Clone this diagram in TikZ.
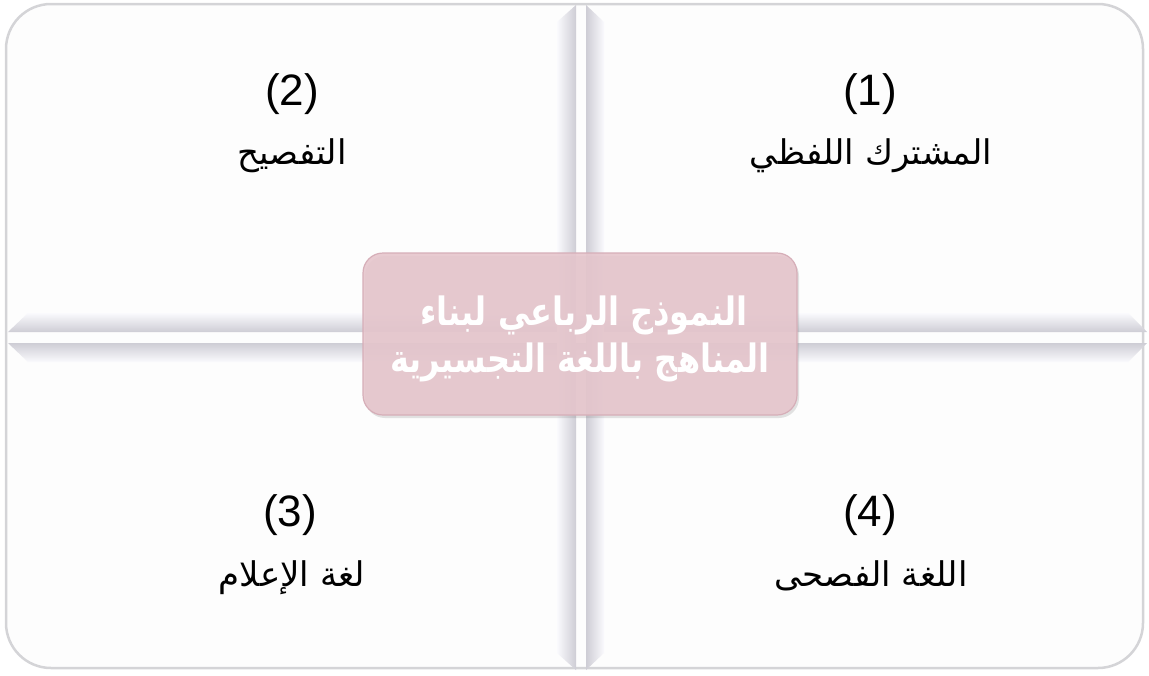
\documentclass[tikz,border=0pt]{standalone}
\usepackage{fontspec}
\setmainfont{Liberation Sans}
\newfontfamily\arabicfont[Script=Arabic]{DejaVu Sans}
\TeXXeTstate=1
\usetikzlibrary{shadows}
\definecolor{barlight}{RGB}{250,250,253}
\definecolor{bardark}{RGB}{206,205,213}
\definecolor{boxpink}{RGB}{230,198,205}
\definecolor{boxedge}{RGB}{214,174,184}
\definecolor{framegray}{RGB}{212,212,215}
\definecolor{framefill}{RGB}{253,253,253}
\begin{document}
\begin{tikzpicture}[x=1pt,y=-1pt,
  num/.style={font=\fontsize{44}{44}\selectfont, anchor=base, inner sep=0pt},
  lab/.style={font=\arabicfont\fontsize{34}{34}\selectfont, anchor=base, inner sep=0pt},
  coretxt/.style={font=\arabicfont\bfseries\fontsize{32}{32}\selectfont, text=white, anchor=base, inner sep=0pt},
  barA/.style={draw=none, left color=barlight, right color=bardark},
  barB/.style={draw=none, left color=bardark, right color=barlight},
  barC/.style={draw=none, top color=barlight, bottom color=bardark},
  barD/.style={draw=none, top color=bardark, bottom color=barlight},
  corebox/.style={rounded corners=20pt, fill=boxpink, fill opacity=0.9, draw=boxedge, line width=1.2pt,
    drop shadow={opacity=0.22, shadow xshift=2pt, shadow yshift=-3pt}}]
\useasboundingbox (0,0) rectangle (1149,675);
% frame
\draw[rounded corners=45pt, draw=framegray, line width=2.5pt, fill=framefill] (6,4) rectangle (1143,668);
% horizontal double arrow
\shade[barC] (28,313) -- (1128,313) -- (1147,332) -- (8,332) -- cycle;
\shade[barD] (8,343) -- (1147,343) -- (1128,362) -- (28,362) -- cycle;
% vertical double arrow
\shade[barA] (557,22) -- (576,5) -- (576,670) -- (557,653) -- cycle;
\shade[barB] (586,5) -- (604,22) -- (604,653) -- (586,670) -- cycle;
% centre box
\path[corebox] (363,253) rectangle (797,415);
\node[coretxt] (core1) at (584,325) {\scalebox{1}[1.22]{\beginR النموذج الرباعي لبناء\endR}};
\node[coretxt] (core2) at (580,372) {\scalebox{1}[1.22]{\beginR المناهج باللغة التجسيرية\endR}};
% quadrant labels
\node[num] (n1) at (870,105) {(1)};
\node[lab] (t1) at (871,164) {\beginR المشترك اللفظي\endR};
\node[num] (n2) at (292,105) {(2)};
\node[lab] (t2) at (292,164) {\beginR التفصيح\endR};
\node[num] (n3) at (290,526) {(3)};
\node[lab] (t3) at (292,586) {\beginR لغة الإعلام\endR};
\node[num] (n4) at (870,526) {(4)};
\node[lab] (t4) at (871,586) {\beginR اللغة الفصحى\endR};
\end{tikzpicture}
\end{document}
